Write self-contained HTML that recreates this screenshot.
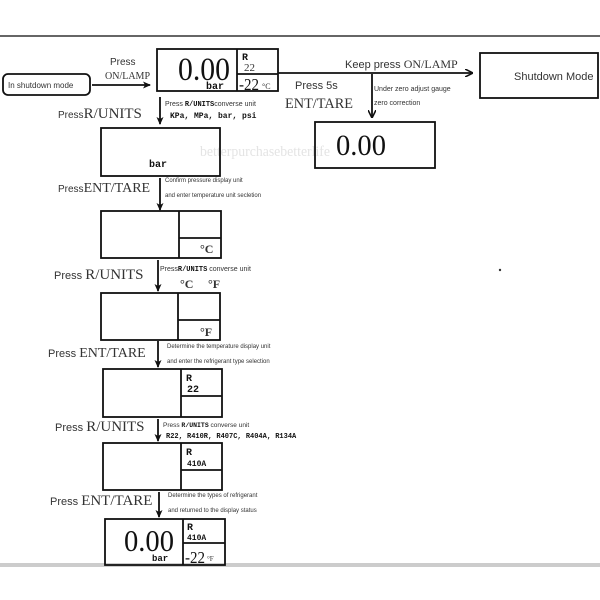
<!DOCTYPE html>
<html><head><meta charset="utf-8"><style>
body{margin:0;background:#fff}
svg{display:block}
.s{font-family:"Liberation Sans",sans-serif;fill:#333}
.r{font-family:"Liberation Serif",serif;fill:#333}
.m{font-family:"Liberation Mono",monospace;font-weight:bold;fill:#111}
.d{fill:#111}
.w{font-family:"Liberation Serif",serif;fill:#e4e4e4}
</style></head><body>
<svg width="600" height="600" viewBox="0 0 600 600" xmlns="http://www.w3.org/2000/svg">
<defs><marker id="a" markerWidth="8" markerHeight="8" refX="7" refY="4" orient="auto" markerUnits="userSpaceOnUse"><path d="M0,0 L8,4 L0,8" fill="none" stroke="#111" stroke-width="1.6"/></marker>
<marker id="b" markerWidth="8" markerHeight="8" refX="7" refY="4" orient="auto" markerUnits="userSpaceOnUse"><path d="M0,0.5 L8,4 L0,7.5 L2,4 Z" fill="#111"/></marker></defs>
<line x1="0" y1="36" x2="600" y2="36" stroke="#333" stroke-width="1.5"/>
<rect x="0" y="563" width="600" height="4" fill="#ccc"/>
<text x="200" y="156" class="w" font-size="15" textLength="130" lengthAdjust="spacingAndGlyphs">betterpurchasebetterlife</text>
<g fill="none" stroke="#111" stroke-width="1.8">
<rect x="3" y="74" width="87" height="21" rx="5"/>
<rect x="157" y="49" width="121" height="42"/>
<line x1="237" y1="49" x2="237" y2="91"/><line x1="237" y1="74" x2="278" y2="74"/>
<rect x="480" y="53" width="118" height="45"/>
<rect x="315" y="122" width="120" height="46"/>
<rect x="101" y="128" width="119" height="48"/>
<rect x="101" y="211" width="120" height="47"/><line x1="179" y1="211" x2="179" y2="258"/><line x1="179" y1="238" x2="221" y2="238"/>
<rect x="101" y="293" width="119" height="47"/><line x1="178" y1="293" x2="178" y2="340"/><line x1="178" y1="320" x2="220" y2="320"/>
<rect x="103" y="369" width="119" height="48"/><line x1="181" y1="369" x2="181" y2="417"/><line x1="181" y1="396" x2="222" y2="396"/>
<rect x="103" y="443" width="119" height="47"/><line x1="181" y1="443" x2="181" y2="490"/><line x1="181" y1="470" x2="222" y2="470"/>
<rect x="105" y="519" width="120" height="46"/><line x1="183" y1="519" x2="183" y2="565"/><line x1="183" y1="543" x2="225" y2="543"/>
<line x1="92" y1="85" x2="150" y2="85" marker-end="url(#b)"/>
<line x1="278" y1="73" x2="472" y2="73" marker-end="url(#a)"/>
<line x1="372" y1="74" x2="372" y2="117" marker-end="url(#a)"/>
<line x1="160" y1="97" x2="160" y2="124" marker-end="url(#b)"/>
<line x1="160" y1="178" x2="160" y2="210" marker-end="url(#b)"/>
<line x1="158" y1="260" x2="158" y2="291" marker-end="url(#b)"/>
<line x1="158" y1="341" x2="158" y2="367" marker-end="url(#b)"/>
<line x1="158" y1="419" x2="158" y2="441" marker-end="url(#b)"/>
<line x1="159" y1="492" x2="159" y2="517" marker-end="url(#b)"/>
</g>
<text x="8" y="88" class="s" font-size="8">In shutdown mode</text>
<text x="110" y="65" class="s" font-size="10">Press</text>
<text x="105" y="79" class="r" font-size="10">ON/LAMP</text>
<text x="178" y="80" class="r d" font-size="33" textLength="52" lengthAdjust="spacingAndGlyphs">0.00</text>
<text x="206" y="89" class="m" font-size="10">bar</text>
<text x="242" y="60" class="m" font-size="10">R</text>
<text x="244" y="71" class="r" font-size="11">22</text>
<text x="239" y="90" class="r d" font-size="17" textLength="20" lengthAdjust="spacingAndGlyphs">-22</text><text x="262" y="89" class="r" font-size="8">°C</text>
<text x="345" y="68" class="s" font-size="11">Keep press <tspan class="r" font-size="12">ON/LAMP</tspan></text>
<text x="514" y="80" class="s" font-size="11">Shutdown Mode</text>
<text x="295" y="89" class="s" font-size="11">Press 5s</text>
<text x="285" y="108" class="r" font-size="15" textLength="68" lengthAdjust="spacingAndGlyphs">ENT/TARE</text>
<text x="374" y="91" class="s" font-size="7">Under zero adjust gauge</text>
<text x="374" y="105" class="s" font-size="7">zero correction</text>
<text x="336" y="155" class="r d" font-size="30" textLength="50" lengthAdjust="spacingAndGlyphs">0.00</text>
<text x="58" y="118" class="s" font-size="10">Press<tspan class="r" font-size="15">R/UNITS</tspan></text>
<text x="165" y="106" class="s" font-size="7">Press <tspan class="m">R/UNITS</tspan>converse unit</text>
<text x="170" y="118" class="m" font-size="8">KPa, MPa, bar, psi</text>
<text x="149" y="167" class="m" font-size="10">bar</text>
<text x="58" y="192" class="s" font-size="10">Press<tspan class="r" font-size="14">ENT/TARE</tspan></text>
<text x="165" y="182" class="s" font-size="6">Confirm pressure display unit</text>
<text x="165" y="197" class="s" font-size="6">and enter temperature unit secletion</text>
<text x="200" y="253" class="r" font-size="12" font-weight="bold">°C</text>
<text x="54" y="279" class="s" font-size="11">Press <tspan class="r" font-size="15">R/UNITS</tspan></text>
<text x="160" y="271" class="s" font-size="7">Press<tspan class="m">R/UNITS</tspan>  converse unit</text>
<text x="180" y="288" class="r" font-size="12" font-weight="bold">°C</text>
<text x="208" y="288" class="r" font-size="12" font-weight="bold">°F</text>
<text x="200" y="336" class="r" font-size="12" font-weight="bold">°F</text>
<text x="48" y="357" class="s" font-size="11">Press <tspan class="r" font-size="14">ENT/TARE</tspan></text>
<text x="167" y="348" class="s" font-size="6">Determine the temperature display unit</text>
<text x="167" y="363" class="s" font-size="6">and enter the refrigerant type selection</text>
<text x="186" y="381" class="m" font-size="10">R</text>
<text x="187" y="392" class="m" font-size="10">22</text>
<text x="55" y="431" class="s" font-size="11">Press <tspan class="r" font-size="15">R/UNITS</tspan></text>
<text x="163" y="427" class="s" font-size="6.5">Press <tspan class="m">R/UNITS</tspan> converse unit</text>
<text x="166" y="438" class="m" font-size="7">R22, R410R, R407C, R404A, R134A</text>
<text x="186" y="455" class="m" font-size="10">R</text>
<text x="187" y="466" class="m" font-size="8">410A</text>
<text x="50" y="505" class="s" font-size="11">Press <tspan class="r" font-size="15">ENT/TARE</tspan></text>
<text x="168" y="497" class="s" font-size="6">Determine the types of refrigerant</text>
<text x="168" y="512" class="s" font-size="6">and returned to the display status</text>
<text x="124" y="551" class="r d" font-size="31" textLength="50" lengthAdjust="spacingAndGlyphs">0.00</text>
<text x="152" y="561" class="m" font-size="9">bar</text>
<text x="187" y="530" class="m" font-size="10">R</text>
<text x="187" y="540" class="m" font-size="8">410A</text>
<text x="185" y="563" class="r d" font-size="17" textLength="20" lengthAdjust="spacingAndGlyphs">-22</text><text x="207" y="561" class="r" font-size="7">°F</text>
<circle cx="500" cy="270" r="1.2" fill="#333"/>
</svg>
</body></html>
